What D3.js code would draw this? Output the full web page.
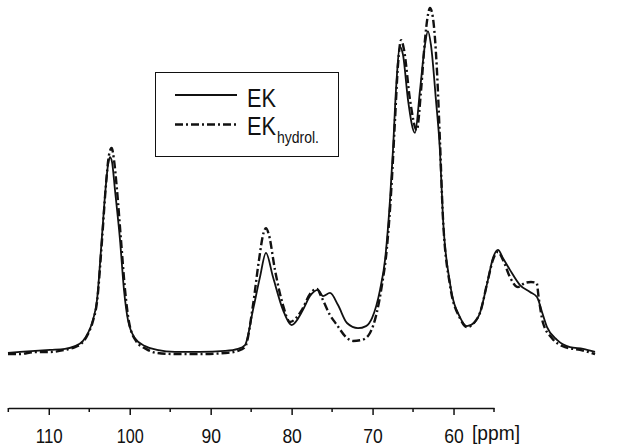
<!DOCTYPE html>
<html lang="en">
<head>
  <meta charset="UTF-8">
  <title>13C CP/MAS NMR EK</title>
  <script src="https://d3js.org/d3.v7.min.js"></script>
  <style>
    body { margin: 0; background: #fff; }
    svg { display: block; background: #fff; }
    .lbl { font-family: "Liberation Sans", Arial, sans-serif; fill: #111; }
  </style>
</head>
<body>
  <svg width="630" height="446"></svg>

  <script>
    const width = 630;
    const height = 446;

    // chemical shift (ppm) and relative intensity
    const ekPpm = [115.04, 113.55, 111.70, 109.85, 108.00, 106.76, 105.77, 105.15, 104.54, 104.04,
      103.46, 103.05, 102.68, 102.44, 102.19, 101.82, 101.20, 100.71, 100.22, 99.35,
      98.11, 96.63, 94.41, 91.32, 88.23, 86.62, 85.76, 84.77, 83.91, 83.17,
      82.30, 81.07, 80.00, 78.60, 77.73, 76.74, 76.12, 75.26, 74.27, 73.16,
      71.80, 70.81, 70.07, 69.08, 68.46, 67.85, 67.48, 67.11, 66.61, 66.24,
      65.62, 64.76, 64.14, 63.53, 63.16, 62.79, 62.17, 61.68, 61.31, 60.44,
      59.21, 58.34, 57.48, 56.74, 55.75, 55.13, 54.51, 53.89, 53.03, 51.79,
      50.55, 49.69, 49.07, 48.45, 47.22, 45.61, 44.00, 42.52];
    const ekInt = [0, 0.3, 0.6, 0.9, 1.2, 2.0, 3.5, 5.8, 9.6, 15.4,
      32.8, 45.8, 54.5, 56.8, 55.4, 47.2, 32.8, 18.3, 9.6, 4.3,
      2.0, 0.9, 0.3, 0.3, 0.6, 1.2, 2.3, 12.5, 22.0, 29.0,
      22.0, 12.5, 8.1, 12.5, 16.5, 18.3, 16.5, 17.4, 13.9, 8.7,
      7.2, 7.8, 10.1, 18.3, 27.0, 44.3, 58.8, 76.2, 88.7, 86.4,
      73.3, 63.8, 76.2, 89.3, 93.3, 89.3, 73.3, 58.8, 39.4, 20.3,
      10.4, 7.8, 8.7, 11.6, 21.2, 27.5, 29.9, 27.5, 24.1, 19.7,
      17.7, 16.2, 11.9, 7.5, 3.8, 1.7, 1.2, 0.3];

    const hydPpm = [115.04, 113.55, 111.70, 109.85, 108.00, 106.76, 105.77, 105.15, 104.54, 104.04,
      103.42, 102.99, 102.56, 102.23, 101.94, 101.57, 101.08, 100.58, 100.09, 99.23,
      97.99, 96.63, 94.41, 91.32, 88.23, 86.62, 85.76, 84.77, 84.03, 83.47,
      83.17, 82.80, 82.06, 81.07, 80.21, 78.73, 77.73, 76.87, 76.37, 75.26,
      74.39, 73.40, 72.41, 71.30, 70.32, 69.49, 68.84, 68.25, 67.64, 67.23,
      66.86, 66.48, 66.11, 65.37, 64.54, 64.01, 63.53, 63.16, 62.91, 62.54,
      62.05, 61.68, 61.31, 60.44, 59.21, 58.34, 57.48, 56.74, 55.75, 55.13,
      54.51, 53.89, 53.03, 52.04, 51.18, 50.43, 49.73, 49.49, 48.94, 47.83,
      46.22, 44.37, 42.52];
    const hydInt = [-0.3, -0.3, 0.3, 0.3, 0.9, 1.7, 3.2, 5.5, 9.3, 14.8,
      32.8, 47.2, 57.4, 59.4, 55.9, 47.2, 32.8, 18.3, 9.0, 3.5,
      1.2, 0, -0.3, -0.3, 0, 0.6, 1.7, 13.9, 27.0, 34.8,
      36.2, 34.2, 24.1, 13.9, 9.0, 12.5, 17.1, 18.6, 16.5, 11.0,
      8.1, 4.9, 3.5, 3.8, 5.8, 11.6, 19.7, 29.9, 49.3, 67.5,
      83.5, 90.7, 87.8, 73.3, 64.6, 76.2, 90.7, 98.0, 100, 97.1,
      82.0, 61.7, 39.4, 19.7, 10.1, 7.5, 8.7, 11.6, 21.2, 27.0,
      29.3, 27.0, 22.0, 19.1, 20.3, 20.6, 20.3, 16.2, 8.7, 4.3,
      1.7, 0.9, -0.3];

    const majorTicks = [110, 100, 90, 80, 70, 60];
    const minorTicks = [115, 105, 95, 85, 75, 65, 55];

    const svg = d3.select("svg")
        .attr("width", width)
        .attr("height", height);

    const x = d3.scaleLinear().domain([115, 55]).range([8.3, 494]);
    const y = d3.scaleLinear().domain([0, 100]).range([353, 8]);
    const axisY = 408;

    const line = d3.line()
        .x(d => x(d[0]))
        .y(d => y(d[1]))
        .curve(d3.curveMonotoneX);

    const ek = d3.zip(ekPpm, ekInt);
    const hyd = d3.zip(hydPpm, hydInt);

    // spektren
    svg.append("path")
        .datum(hyd)
        .attr("d", line)
        .attr("fill", "none")
        .attr("stroke", "#111")
        .attr("stroke-width", 2.4)
        .attr("stroke-dasharray", "8,3,2,3");

    svg.append("path")
        .datum(ek)
        .attr("d", line)
        .attr("fill", "none")
        .attr("stroke", "#111")
        .attr("stroke-width", 1.8);

    // achse
    const gx = svg.append("g")
        .attr("transform", `translate(0,${axisY})`)
        .call(d3.axisBottom(x).tickValues(majorTicks).tickSize(7).tickSizeOuter(0).tickFormat(d3.format("d")));

    gx.select(".domain").attr("stroke", "#111").attr("stroke-width", 1.5);
    gx.selectAll(".tick line").attr("stroke", "#111").attr("stroke-width", 1.5);
    // schmale schrift nachbilden (arial narrow gibt es nicht)
    gx.selectAll(".tick text")
        .attr("class", "lbl")
        .attr("y", 35)
        .attr("dy", 0)
        .attr("font-size", 19.5)
        .attr("fill", "#111")
        .attr("textLength", d => d >= 100 ? 27 : 19.5)
        .attr("lengthAdjust", "spacingAndGlyphs");

    svg.append("g")
        .selectAll("line")
        .data(minorTicks)
        .enter().append("line")
        .attr("x1", d => x(d)).attr("x2", d => x(d))
        .attr("y1", axisY).attr("y2", axisY + 4)
        .attr("stroke", "#111")
        .attr("stroke-width", 1.5);

    svg.append("text")
        .attr("class", "lbl")
        .attr("x", 472)
        .attr("y", 440)
        .attr("font-size", 19.5)
        .attr("textLength", 48)
        .attr("lengthAdjust", "spacingAndGlyphs")
        .text("[ppm]");

    // legende
    const leg = svg.append("g");
    leg.append("rect")
        .attr("x", 155.5).attr("y", 72.5)
        .attr("width", 183).attr("height", 84)
        .attr("fill", "#fff")
        .attr("stroke", "#111")
        .attr("stroke-width", 1);

    leg.append("line")
        .attr("x1", 175).attr("x2", 237)
        .attr("y1", 95).attr("y2", 95)
        .attr("stroke", "#111").attr("stroke-width", 1.8);
    leg.append("text")
        .attr("class", "lbl")
        .attr("x", 247).attr("y", 106.5)
        .attr("font-size", 25.5)
        .attr("textLength", 29)
        .attr("lengthAdjust", "spacingAndGlyphs")
        .text("EK");

    leg.append("line")
        .attr("x1", 175).attr("x2", 238)
        .attr("y1", 124.5).attr("y2", 124.5)
        .attr("stroke", "#111").attr("stroke-width", 2.4)
        .attr("stroke-dasharray", "8,3,2,3");
    leg.append("text")
        .attr("class", "lbl")
        .attr("x", 247).attr("y", 135)
        .attr("font-size", 25.5)
        .attr("textLength", 29)
        .attr("lengthAdjust", "spacingAndGlyphs")
        .text("EK");
    leg.append("text")
        .attr("class", "lbl")
        .attr("x", 277).attr("y", 143.3)
        .attr("font-size", 17)
        .attr("textLength", 42)
        .attr("lengthAdjust", "spacingAndGlyphs")
        .text("hydrol.");
  </script>
</body>
</html>
